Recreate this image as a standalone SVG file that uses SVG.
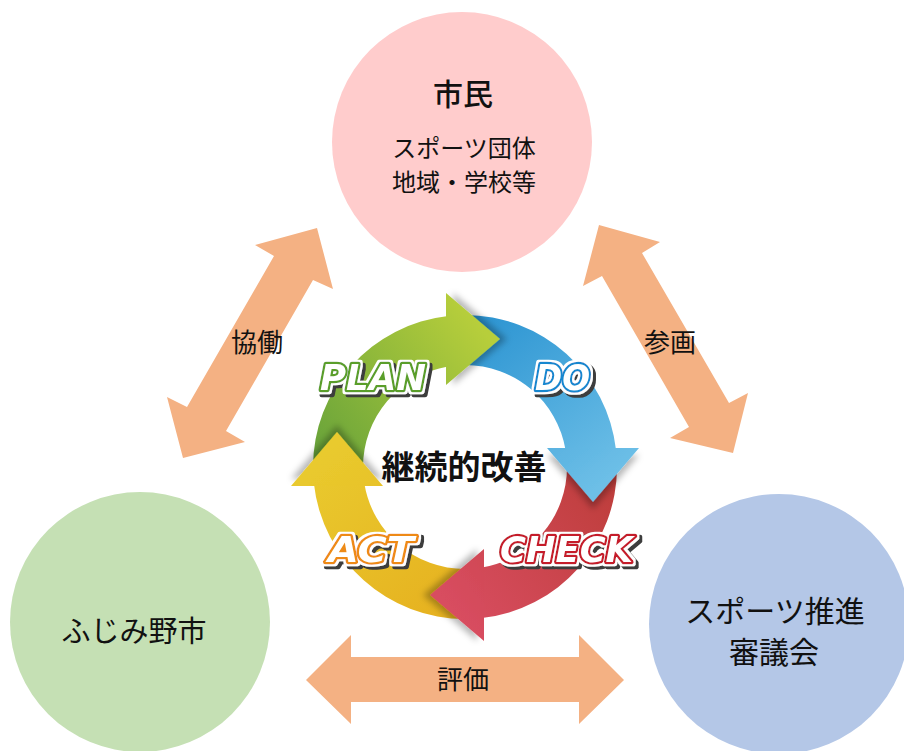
<svg xmlns="http://www.w3.org/2000/svg" xmlns:xlink="http://www.w3.org/1999/xlink" width="904" height="751" viewBox="0 0 904 751">
<style>
  .jp { font-family: "Noto Sans CJK JP", "Noto Sans", sans-serif; fill: #111; text-anchor: middle; }
  .arrow { fill: #f4b183; }
  .pdca { font-family: "DejaVu Sans", "Liberation Sans", sans-serif; font-weight: bold; font-style: italic; fill: #fff; stroke-width: 4.5; stroke-linejoin: round; paint-order: stroke; filter: url(#lbl); }
  .head { filter: url(#hsh); }
</style>
<defs>
  <linearGradient id="gG" gradientUnits="userSpaceOnUse" x1="320" y1="470" x2="490" y2="339">
    <stop offset="0" stop-color="#66a23a"/><stop offset="1" stop-color="#b7ce3b"/>
  </linearGradient>
  <linearGradient id="gB" gradientUnits="userSpaceOnUse" x1="320" y1="470" x2="490" y2="339">
    <stop offset="0" stop-color="#2a93d1"/><stop offset="1" stop-color="#6dbfe7"/>
  </linearGradient>
  <linearGradient id="gR" gradientUnits="userSpaceOnUse" x1="320" y1="470" x2="490" y2="339">
    <stop offset="0" stop-color="#bd3d3a"/><stop offset="1" stop-color="#d84d60"/>
  </linearGradient>
  <linearGradient id="gY" gradientUnits="userSpaceOnUse" x1="320" y1="470" x2="490" y2="339">
    <stop offset="0" stop-color="#e6b01f"/><stop offset="1" stop-color="#e9ca2e"/>
  </linearGradient>
  <path id="body" d="M313,467 A152,152 0 0 1 448,315.95 L448,366.43 A102,102 0 0 0 363,467 Z"/>
  <path id="hd" d="M446,293 L500,339 L446,385 Z"/>
  <filter id="hsh" x="-30%" y="-30%" width="160%" height="160%">
    <feDropShadow dx="7" dy="0" stdDeviation="3" flood-color="#000" flood-opacity="0.28"/>
  </filter>
  <filter id="lbl" x="-20%" y="-30%" width="140%" height="170%">
    <feMorphology in="SourceAlpha" operator="dilate" radius="1.5" result="rimA"/>
    <feFlood flood-color="#ffffff" result="w"/>
    <feComposite in="w" in2="rimA" operator="in" result="rim"/>
    <feOffset in="rimA" dx="3" dy="3" result="shA"/>
    <feFlood flood-color="#3c3c3c" result="d"/>
    <feComposite in="d" in2="shA" operator="in" result="sh"/>
    <feMerge><feMergeNode in="sh"/><feMergeNode in="rim"/><feMergeNode in="SourceGraphic"/></feMerge>
  </filter>
</defs>
<rect width="904" height="751" fill="#fff"/>

<g id="connectors">
  <g id="arrow-kyodo">
    <polygon class="arrow" points="317,228 333,289 313,280 226,431 245,442 183,458 167,397 187,407 274,256 255,245"/>
    <text class="jp" x="257" y="352" font-size="26">協働</text>
  </g>
  <g id="arrow-sankaku">
    <polygon class="arrow" points="599,225 660,242 642,253 729,403 748,393 733,453 670,438 689,427 602,276 583,286"/>
    <text class="jp" x="670" y="352" font-size="26">参画</text>
  </g>
  <g id="arrow-hyoka">
    <polygon class="arrow" points="306,680 351,635 351,657 579,657 579,635 624,680 579,724 579,702 351,702 351,724"/>
    <text class="jp" x="463" y="689" font-size="26">評価</text>
  </g>
</g>

<g id="node-shimin">
  <circle cx="462" cy="142" r="130" fill="#ffcccc"/>
  <text class="jp" x="463" y="105" font-size="30" font-weight="500">市民</text>
  <text class="jp" x="464" y="157" font-size="24">スポーツ団体</text>
  <text class="jp" x="464" y="191" font-size="24">地域・学校等</text>
</g>

<g id="node-fujimino">
  <circle cx="140" cy="622" r="130" fill="#c5e0b4"/>
  <text class="jp" x="134" y="642" font-size="29">ふじみ野市</text>
</g>

<g id="node-council">
  <circle cx="779" cy="624" r="130" fill="#b4c7e7"/>
  <text class="jp" x="775" y="622" font-size="30">スポーツ推進</text>
  <text class="jp" x="774" y="663" font-size="30">審議会</text>
</g>

<g id="cycle">
  <g id="cycle-bodies">
    <use xlink:href="#body" fill="url(#gG)"/>
    <use xlink:href="#body" fill="url(#gB)" transform="rotate(90 465 467)"/>
    <use xlink:href="#body" fill="url(#gR)" transform="rotate(180 465 467)"/>
    <use xlink:href="#body" fill="url(#gY)" transform="rotate(270 465 467)"/>
  </g>
  <g id="cycle-heads">
    <use class="head" xlink:href="#hd" fill="url(#gG)"/>
    <use class="head" xlink:href="#hd" fill="url(#gB)" transform="rotate(90 465 467)"/>
    <use class="head" xlink:href="#hd" fill="url(#gR)" transform="rotate(180 465 467)"/>
    <use class="head" xlink:href="#hd" fill="url(#gY)" transform="rotate(270 465 467)"/>
  </g>
  <text class="jp" x="464" y="479" font-size="33" font-weight="bold" fill="#000">継続的改善</text>
  <text class="pdca" x="320" y="390" font-size="35" textLength="106" lengthAdjust="spacingAndGlyphs" stroke="#5a9e2c">PLAN</text>
  <text class="pdca" x="535" y="390" font-size="35" textLength="55" lengthAdjust="spacingAndGlyphs" stroke="#1787cf">DO</text>
  <text class="pdca" x="500" y="562" font-size="35" textLength="133" lengthAdjust="spacingAndGlyphs" stroke="#c51d2b">CHECK</text>
  <text class="pdca" x="328" y="562" font-size="35" textLength="86" lengthAdjust="spacingAndGlyphs" stroke="#ee8a12">ACT</text>
</g>
</svg>
